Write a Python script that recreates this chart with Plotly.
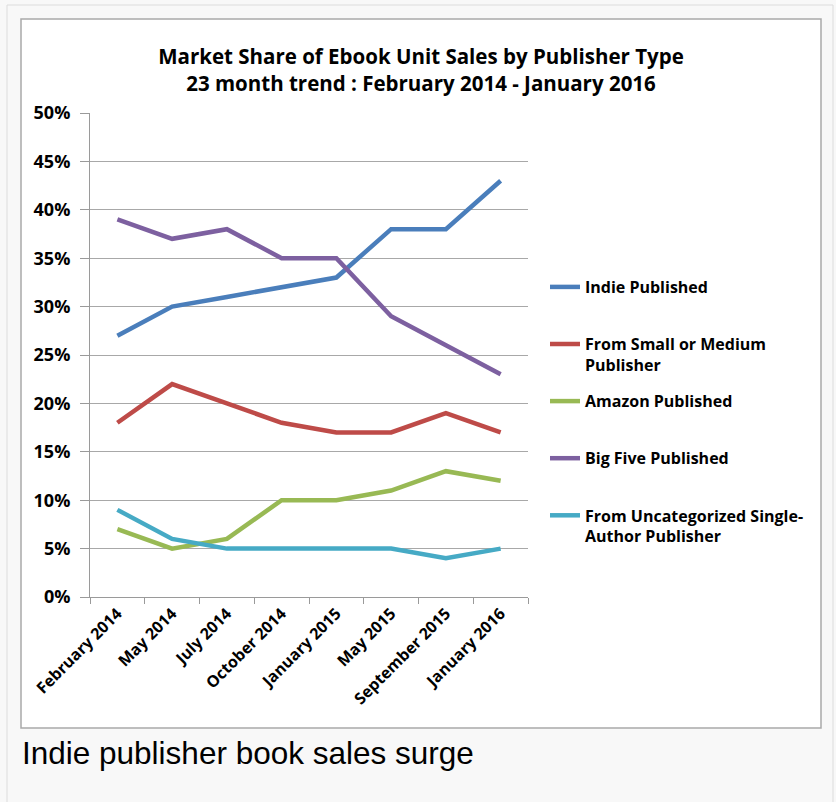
import plotly.graph_objects as go

categories = ["February 2014", "May 2014", "July 2014", "October 2014",
              "January 2015", "May 2015", "September 2015", "January 2016"]
indie = [27, 30, 31, 32, 33, 38, 38, 43]
small_medium = [18, 22, 20, 18, 17, 17, 19, 17]
amazon = [7, 5, 6, 10, 10, 11, 13, 12]
big_five = [39, 37, 38, 35, 35, 29, 26, 23]
uncategorized = [9, 6, 5, 5, 5, 5, 4, 5]

series = [
    ("Indie Published<br> ", indie, "#4a7ebb"),
    ("From Small or Medium<br>Publisher", small_medium, "#be4b48"),
    ("Amazon Published<br> ", amazon, "#98b954"),
    ("Big Five Published<br> ", big_five, "#7d60a0"),
    ("From Uncategorized Single-<br>Author Publisher", uncategorized, "#46aac5"),
]
y_ticks = [0, 5, 10, 15, 20, 25, 30, 35, 40, 45, 50]
y_tick_text = [f"{v}%" for v in y_ticks]

W, H = 836, 802
L, R, T, B = 90, 528, 113, 597


def px(p):
    return (p - L) / (R - L)


def py(p):
    return (B - p) / (B - T)


fig = go.Figure()
for i, (name, vals, color) in enumerate(series):
    fig.add_trace(go.Scatter(
        x=categories, y=vals, mode="lines", name=name,
        legendgroup=f"g{i}",
        line=dict(color=color, width=4.5),
        hoverinfo="skip",
    ))

font_main = "'Open Sans', Lato, sans-serif"

fig.update_layout(
    width=W, height=H,
    margin=dict(l=L, r=W - R, t=T, b=H - B, pad=0),
    paper_bgcolor="#f8f8f8",
    plot_bgcolor="rgba(0,0,0,0)",
    title=dict(
        text="Market Share of Ebook Unit Sales by Publisher Type<br>23 month trend : February 2014 - January 2016",
        x=(421) / W, xanchor="center", y=1 - 64 / H, yanchor="middle",
        font=dict(family=font_main, size=20.5, color="#000", weight="bold"),
    ),
    xaxis=dict(
        type="category", range=[-0.5, 7.5], tickson="boundaries",
        ticks="outside", ticklen=6, tickcolor="#9a9a9a",
        showline=True, linecolor="#9a9a9a", linewidth=1,
        showgrid=False, tickangle=-45,
        tickfont=dict(family=font_main, size=16, color="#000", weight="bold"),
        fixedrange=True,
    ),
    yaxis=dict(
        range=[0, 50], tickvals=y_ticks, ticktext=y_tick_text,
        ticks="outside", ticklen=9, tickcolor="#9a9a9a",
        showline=True, linecolor="#9a9a9a", linewidth=1,
        showgrid=True, gridcolor="#a8a8a8", gridwidth=1,
        zeroline=False,
        tickfont=dict(family=font_main, size=18, color="#000", weight="bold"),
        ticklabelstandoff=6,
        fixedrange=True,
    ),
    legend=dict(
        x=px(545), xanchor="left", y=py(270), yanchor="top",
        font=dict(family=font_main, size=16, color="#000", weight="bold"),
        bgcolor="rgba(0,0,0,0)", valign="top",
        tracegroupgap=12.5, itemwidth=30,
    ),
    showlegend=True,
    shapes=[
        dict(type="rect", xref="paper", yref="paper", layer="below",
             x0=px(7), x1=px(833), y0=py(5), y1=py(810),
             line=dict(color="#dcdcdc", width=1), fillcolor="#f8f8f8"),
        dict(type="rect", xref="paper", yref="paper", layer="below",
             x0=px(21), x1=px(821), y0=py(19), y1=py(728),
             line=dict(color="#a9a9a9", width=1.5), fillcolor="#ffffff"),
    ],
    annotations=[
        dict(text="Indie publisher book sales surge", xref="paper", yref="paper",
             x=px(20), xanchor="left", y=py(753), yanchor="middle", showarrow=False,
             font=dict(family="Liberation Sans, Arial, sans-serif", size=31.5, color="#000")),
    ],
)

fig.write_html("out.html", config={"displayModeBar": False},
               post_script="document.body.style.margin='0';document.body.style.overflow='hidden';")
